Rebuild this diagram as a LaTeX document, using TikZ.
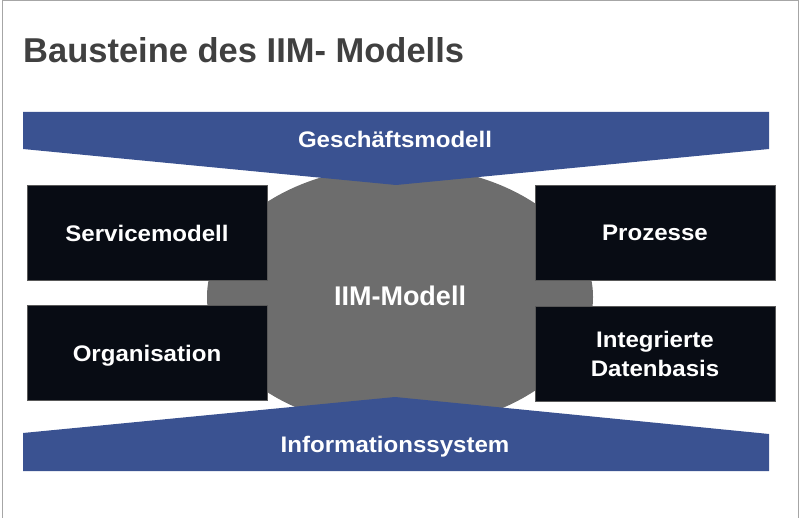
\documentclass[tikz,border=0pt]{standalone}
\usepackage{fontspec}
\setmainfont{Liberation Sans}
\newfontfamily\boxfont[FakeStretch=1.07]{Liberation Sans}
\usetikzlibrary{shapes.geometric}
\definecolor{bannerblue}{HTML}{3A5291}
\definecolor{coregray}{HTML}{6D6D6D}
\definecolor{boxblack}{HTML}{080C14}
\definecolor{titlegray}{HTML}{404040}
\begin{document}
\begin{tikzpicture}[
  x=1pt, y=-1pt,
  block/.style={rectangle, draw=gray!70!black, line width=0.6pt, fill=boxblack, text=white,
    minimum width=240pt, minimum height=95pt, align=center,
    font=\boxfont\bfseries\fontsize{22.5}{29}\selectfont},
  banner/.style={fill=bannerblue},
  bannerlabel/.style={text=white, anchor=base, font=\boxfont\bfseries\fontsize{22.5}{27}\selectfont}
]
\useasboundingbox (0,0) rectangle (799,518);
\draw[gray!70, line width=1pt] (2,518) -- (2,1) -- (798,1) -- (798,518);

\node[anchor=base west, text=titlegray, inner sep=0pt, font=\bfseries\fontsize{34.5}{40}\selectfont] (title) at (23,63) {Bausteine des IIM- Modells};

% core
\node[ellipse, fill=coregray, minimum width=386pt, minimum height=262pt] (core) at (400,297) {};
\node[text=white, font=\bfseries\fontsize{27}{30}\selectfont] (coretext) at (400,296) {IIM-Modell};

% banners
\fill[banner] (23,112) -- (769,112) -- (769,149) -- (396,185) -- (23,149) -- cycle;
\fill[banner] (23,471) -- (769,471) -- (769,434) -- (395,397) -- (23,433) -- cycle;
\node[bannerlabel] (gm) at (395,147.5) {Geschäftsmodell};
\node[bannerlabel] (is) at (395,452) {Informationssystem};

% building blocks
\node[block] (service) at (147,233) {Servicemodell};
\node[block, text depth=0pt] (orga) at (147,353) {Organisation};
\node[block] (proc) at (655,233) {Prozesse};
\node[block] (data) at (655,354) {Integrierte\\Datenbasis};
\end{tikzpicture}
\end{document}
